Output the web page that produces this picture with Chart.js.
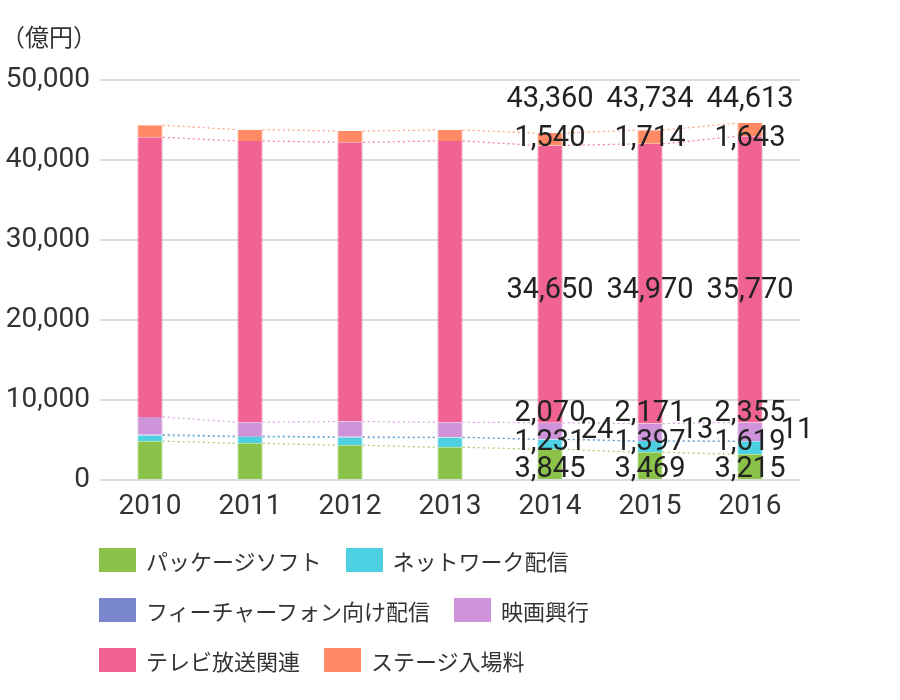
<!DOCTYPE html>
<html lang="ja">
<head>
<meta charset="utf-8">
<title>映像関連市場規模</title>
<script src="https://cdn.jsdelivr.net/npm/chart.js@4/dist/chart.umd.min.js"></script>
<style>
body{margin:0;background:#fff;color:#333;font-family:"Noto Sans CJK JP",sans-serif;}
#wrap{position:relative;width:900px;height:700px;}
#unit{position:absolute;left:1px;top:21px;font-size:24px;line-height:30px;}
#legend{position:absolute;left:99px;top:548px;}
.legend-row{display:flex;height:50px;}
.legend-item{display:flex;align-items:center;height:24px;margin-right:24px;font-size:22px;white-space:nowrap;}
.legend-box{width:37px;height:24px;margin-right:10px;}
</style>
</head>
<body>
<div id="wrap">
    <canvas id="chart" width="900" height="700"></canvas>
    <div id="unit">（億円）</div>
    <div id="legend"></div>
</div>
<script>
const years = ['2010', '2011', '2012', '2013', '2014', '2015', '2016'];
const packageSoft = [4850, 4590, 4340, 4090, 3845, 3469, 3215];
const netDelivery = [700, 780, 970, 1210, 1231, 1397, 1619];
const featurePhone = [130, 110, 90, 50, 24, 13, 11];
const movies = [2200, 1750, 1900, 1870, 2070, 2171, 2355];
const tvRelated = [34960, 35150, 34910, 35160, 34650, 34970, 35770];
const stageFees = [1500, 1410, 1420, 1370, 1540, 1714, 1643];

const seriesNames = ['パッケージソフト', 'ネットワーク配信', 'フィーチャーフォン向け配信', '映画興行', 'テレビ放送関連', 'ステージ入場料'];
const seriesColors = ['#8bc34a', '#4dd0e1', '#7986cb', '#ce93d8', '#f06292', '#ff8a65'];
const labeledYears = ['2014', '2015', '2016'];
const yMax = 50000;
const yStep = 10000;

function fmt(n){
    return n.toLocaleString('en-US');
}

// dotted lines joining the top of each segment from bar to bar
const connectorLines = {
    id: 'connectorLines',
    beforeDatasetsDraw(chart){
        const ctx = chart.ctx;
        chart.data.datasets.forEach((ds, d) => {
            const bars = chart.getDatasetMeta(d).data;
            ctx.save();
            ctx.strokeStyle = ds.backgroundColor;
            ctx.globalAlpha = 0.85;
            ctx.lineWidth = 1.2;
            ctx.setLineDash([2, 3]);
            for(let i = 0; i < bars.length - 1; i++){
                const a = bars[i], b = bars[i+1];
                ctx.beginPath();
                ctx.moveTo(a.x + a.width/2, a.y);
                ctx.lineTo(b.x - b.width/2, b.y);
                ctx.stroke();
            }
            ctx.restore();
        });
    }
};

// value labels, set in rows like the original
const valueLabels = {
    id: 'valueLabels',
    afterDatasetsDraw(chart, args, opts){
        const ctx = chart.ctx;
        const yScale = chart.scales.y;
        ctx.save();
        ctx.font = opts.font;
        ctx.fillStyle = opts.color;
        ctx.textAlign = 'center';
        ctx.textBaseline = 'middle';
        chart.data.labels.forEach((year, i) => {
            if(!labeledYears.includes(year)) return;
            let total = 0;
            let x = 0;
            chart.data.datasets.forEach((ds, d) => {
                const bar = chart.getDatasetMeta(d).data[i];
                total += ds.data[i];
                x = bar.x;
                ctx.fillText(fmt(ds.data[i]), bar.x + (ds.labelDx || 0), yScale.getPixelForValue(ds.labelAt));
            });
            ctx.fillText(fmt(total), x, yScale.getPixelForValue(opts.totalAt));
        });
        ctx.restore();
    }
};

const seriesData = [packageSoft, netDelivery, featurePhone, movies, tvRelated, stageFees];
const labelRows = [1250, 4700, 6100, 8300, 23600, 42650];

const datasets = seriesData.map((data, k) => ({
    label: seriesNames[k],
    data: data,
    backgroundColor: seriesColors[k],
    borderColor: seriesColors[k] + '70',
    borderWidth: {left: 1, right: 1, top: 0, bottom: 0},
    borderSkipped: false,
    labelAt: labelRows[k],
    labelDx: k === 2 ? 47 : 0
}));

Chart.defaults.font.family = 'Roboto, "Noto Sans", sans-serif';
Chart.defaults.font.size = 28;

const chart = new Chart(document.getElementById('chart'), {
    type: 'bar',
    data: {labels: years, datasets: datasets},
    plugins: [connectorLines, valueLabels],
    options: {
        responsive: false,
        animation: false,
        locale: 'en-US',
        layout: {padding: {top: 80, right: 100, bottom: 180, left: 0}},
        datasets: {bar: {categoryPercentage: 1, barPercentage: 0.255}},
        scales: {
            x: {
                stacked: true,
                grid: {display: false},
                border: {display: false},
                ticks: {color: '#333', padding: 2},
                afterFit(scale){ scale.height = 40; }
            },
            y: {
                stacked: true,
                min: 0,
                max: yMax,
                ticks: {stepSize: yStep, color: '#333', padding: 10},
                grid: {color: '#dcdcdc', lineWidth: 2, drawTicks: false},
                border: {display: false},
                afterFit(scale){ scale.width = 100; }
            }
        },
        plugins: {
            legend: {display: false},
            tooltip: {enabled: false},
            valueLabels: {font: '29px Roboto', color: '#222', totalAt: 47500}
        }
    }
});

function buildLegend(){
    const box = document.getElementById('legend');
    const ds = chart.data.datasets;
    for(let r = 0; r < ds.length; r += 2){
        const row = document.createElement('div');
        row.className = 'legend-row';
        ds.slice(r, r+2).forEach(item => {
            const el = document.createElement('div');
            el.className = 'legend-item';
            el.innerHTML = `<span class="legend-box" style="background:${item.backgroundColor}"></span><span>${item.label}</span>`;
            row.appendChild(el);
        });
        box.appendChild(row);
    }
}
buildLegend();
</script>
</body>
</html>
